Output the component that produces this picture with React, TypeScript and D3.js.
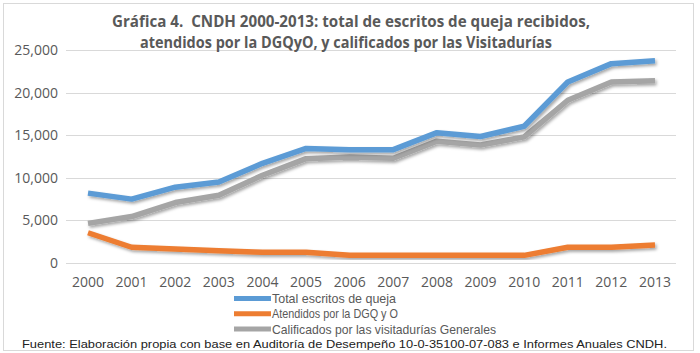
import React, { useRef, useEffect } from 'react';
import * as d3 from 'd3';

const years = ['2000', '2001', '2002', '2003', '2004', '2005', '2006', '2007', '2008', '2009', '2010', '2011', '2012', '2013'];
const totalEscritos = [8200, 7500, 8900, 9500, 11700, 13450, 13300, 13300, 15300, 14850, 16050, 21250, 23400, 23750];
const atendidosDGQ = [3550, 1850, 1650, 1450, 1250, 1250, 900, 900, 900, 900, 900, 1850, 1850, 2100];
const calificados = [4650, 5450, 7100, 7950, 10300, 12250, 12450, 12300, 14300, 13850, 14800, 19100, 21250, 21400];
const yTicks = [0, 5000, 10000, 15000, 20000, 25000];

const seriesNames = ['Total escritos de queja', 'Atendidos por la DGQ y O', 'Calificados por las visitadurías Generales'];
const seriesColors = ['#5b9bd5', '#ed7d31', '#a5a5a5'];
const titleLines = [
  'Gráfica 4.  CNDH 2000-2013: total de escritos de queja recibidos,',
  'atendidos por la DGQyO, y calificados por las Visitadurías',
];
const source = 'Fuente: Elaboración propia con base en Auditoría de Desempeño 10-0-35100-07-083 e Informes Anuales CNDH.';

const App = () => {
  const ref = useRef<SVGSVGElement>(null);

  useEffect(() => {
    const svg = d3.select(ref.current);
    svg.selectAll('*').remove();

    const width = 700;
    const margin = { top: 50, right: 23, bottom: 90, left: 66 };
    const font = 'Open Sans, sans-serif';
    const smallFont = 'Liberation Sans, Arial, sans-serif';

    // shadow like the Excel line effect
    svg.append('defs').append('filter')
      .attr('id', 'shadow')
      .attr('x', '-5%').attr('y', '-20%').attr('width', '110%').attr('height', '140%')
      .append('feDropShadow')
      .attr('dx', 1.5).attr('dy', 2)
      .attr('stdDeviation', 1.5)
      .attr('flood-color', '#000')
      .attr('flood-opacity', 0.35);

    svg.append('rect')
      .attr('x', 3.5).attr('y', 3.5)
      .attr('width', 690).attr('height', 347)
      .attr('fill', '#fff')
      .attr('stroke', '#d9d9d9');

    const x = d3.scalePoint()
      .domain(years)
      .range([88, 655]);

    const y = d3.scaleLinear()
      .domain([0, 25000])
      .range([263, margin.top]);

    // gridlines
    svg.append('g')
      .selectAll('line')
      .data(yTicks)
      .join('line')
      .attr('x1', margin.left)
      .attr('x2', width - margin.right - 1)
      .attr('y1', d => Math.round(y(d)) + 0.5)
      .attr('y2', d => Math.round(y(d)) + 0.5)
      .attr('stroke', '#d9d9d9')
      .attr('stroke-width', 1);

    // y labels
    svg.append('g')
      .selectAll('text')
      .data(yTicks)
      .join('text')
      .attr('x', 58)
      .attr('y', d => y(d))
      .attr('dy', '0.35em')
      .attr('text-anchor', 'end')
      .style('font-family', font)
      .style('font-size', '14px')
      .attr('fill', '#595959')
      .text(d => d3.format(',')(d));

    // x labels
    svg.append('g')
      .selectAll('text')
      .data(years)
      .join('text')
      .attr('x', d => x(d)!)
      .attr('y', 287)
      .attr('text-anchor', 'middle')
      .style('font-family', font)
      .style('font-size', '14px')
      .attr('fill', '#595959')
      .text(d => d);

    const allSeries = [totalEscritos, atendidosDGQ, calificados];
    const line = d3.line<number>()
      .x((_, i) => x(years[i])!)
      .y(d => y(d));

    // gray first so blue sits on top like the reference
    [2, 0, 1].forEach(i => {
      svg.append('path')
        .datum(allSeries[i])
        .attr('d', line)
        .attr('fill', 'none')
        .attr('stroke', seriesColors[i])
        .attr('stroke-width', 5.5)
        .attr('stroke-linejoin', 'round')
        .attr('filter', 'url(#shadow)');
    });

    // title
    svg.append('g')
      .selectAll('text')
      .data(titleLines)
      .join('text')
      .attr('x', (_, i) => (i === 0 ? 351 : 346))
      .attr('y', (_, i) => 27 + i * 21)
      .attr('text-anchor', 'middle')
      .attr('textLength', (_, i) => (i === 0 ? 478 : 412))
      .attr('lengthAdjust', 'spacingAndGlyphs')
      .style('white-space', 'pre')
      .style('font-family', font)
      .style('font-size', '16px')
      .style('font-weight', 'bold')
      .attr('fill', '#595959')
      .text(d => d);

    // legend
    const legend = svg.append('g')
      .selectAll('g')
      .data(seriesNames)
      .join('g')
      .attr('transform', (_, i) => `translate(0,${298.5 + i * 15.3})`);

    legend.append('line')
      .attr('x1', 234).attr('x2', 271)
      .attr('y1', 0).attr('y2', 0)
      .attr('stroke', (_, i) => seriesColors[i])
      .attr('stroke-width', 5);

    legend.append('text')
      .attr('x', 272)
      .attr('y', 0)
      .attr('dy', '0.35em')
      .attr('textLength', (_, i) => [124, 126, 224][i])
      .attr('lengthAdjust', 'spacingAndGlyphs')
      .style('font-family', smallFont)
      .style('font-size', '13px')
      .attr('fill', '#595959')
      .text(d => d);

    // source note
    svg.append('text')
      .attr('x', 22)
      .attr('y', 347.5)
      .attr('textLength', 645)
      .attr('lengthAdjust', 'spacingAndGlyphs')
      .style('font-family', smallFont)
      .style('font-size', '11px')
      .attr('fill', '#222')
      .text(source);
  }, []);

  return (
    <svg ref={ref} width={700} height={353} style={{ position: 'absolute', left: 0, top: 0 }} />
  );
};

export default App;
